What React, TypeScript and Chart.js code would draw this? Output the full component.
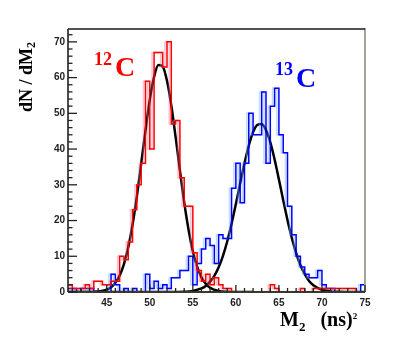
import React, { useEffect, useRef } from "react";
import { Chart, registerables } from "chart.js";

Chart.register(...registerables);

// Histogram bin left edges (bin width 0.5), M2 in (ns)^2
const binEdges = [
  40.5, 41, 41.5, 42, 42.5, 43, 43.5, 44, 44.5, 45,
  45.5, 46, 46.5, 47, 47.5, 48, 48.5, 49, 49.5, 50,
  50.5, 51, 51.5, 52, 52.5, 53, 53.5, 54, 54.5, 55,
  55.5, 56, 56.5, 57, 57.5, 58, 58.5, 59, 59.5, 60,
  60.5, 61, 61.5, 62, 62.5, 63, 63.5, 64, 64.5, 65,
  65.5, 66, 66.5, 67, 67.5, 68, 68.5, 69, 69.5, 70,
  70.5, 71, 71.5, 72, 72.5, 73, 73.5, 74, 74.5,
];
const binEnd = 75;

const counts12C = [
  2, 1, 1, 1, 2, 1, 3, 3, 2, 2,
  3, 3, 10, 9, 14, 23, 30, 36, 59, 40,
  67, 67, 63, 70, 47, 48, 32, 24, 24, 11,
  6, 3, 5, 2, 4, 2, 1, 1, 0, 0,
  0, 0, 0, 0, 0, 0, 0, 2, 1, 0,
  0, 0, 0, 0, 1, 0, 0, 1, 1, 1,
  1, 1, 1, 1, 1, 1, 1, 0, 0,
];

const counts13C = [
  1, 1, 0, 1, 1, 1, 0, 0, 0, 0,
  5, 2, 0, 1, 0, 1, 0, 0, 5, 1,
  3, 1, 2, 1, 4, 4, 6, 6, 10, 2,
  8, 12, 15, 13, 8, 16, 15, 15, 29, 36,
  25, 36, 50, 44, 44, 56, 36, 52, 57, 44,
  39, 24, 16, 10, 7, 5, 4, 4, 6, 2,
  1, 1, 0, 0, 0, 0, 0, 0, 2,
];

// Gaussian fit curves
const fit12X = [40.5, 42, 43, 44, 45, 45.5, 46, 46.5, 47, 47.5, 48, 48.5, 49, 49.5, 50, 50.5, 51, 51.5, 52, 52.5, 53, 53.5, 54, 54.5, 55, 55.5, 56, 56.5, 57, 58, 59, 60, 62];
const fit12Y = [0, 0, 0.02, 0.13, 0.66, 1.34, 2.56, 4.6, 7.8, 12.5, 18.9, 26.8, 35.9, 45.2, 53.8, 60.2, 63.5, 63.1, 59.1, 52.2, 43.4, 34.0, 25.1, 17.5, 11.4, 7.1, 4.1, 2.3, 1.17, 0.26, 0.05, 0.01, 0];

const fit13X = [40.5, 50, 53, 54, 55, 56, 56.5, 57, 57.5, 58, 58.5, 59, 59.5, 60, 60.5, 61, 61.5, 62, 62.5, 63, 63.5, 64, 64.5, 65, 65.5, 66, 66.5, 67, 67.5, 68, 68.5, 69, 70, 71, 72, 73, 75];
const fit13Y = [0, 0, 0.02, 0.07, 0.3, 1.0, 1.7, 2.9, 4.5, 6.9, 10.1, 14.2, 19.1, 24.6, 30.4, 36.0, 41.0, 44.8, 46.8, 47.0, 45.3, 41.9, 37.1, 31.5, 25.7, 20.1, 15.1, 10.9, 7.5, 5.0, 3.1, 1.9, 0.63, 0.17, 0.04, 0.01, 0];

const xMajorTicks = [45, 50, 55, 60, 65, 70, 75];
const xMinorTicks = [41, 42, 43, 44, 46, 47, 48, 49, 51, 52, 53, 54, 56, 57, 58, 59, 61, 62, 63, 64, 66, 67, 68, 69, 71, 72, 73, 74];
const yMajorTicks = [0, 10, 20, 30, 40, 50, 60, 70];
const yMinorTicks = [2, 4, 6, 8, 12, 14, 16, 18, 22, 24, 26, 28, 32, 34, 36, 38, 42, 44, 46, 48, 52, 54, 56, 58, 62, 64, 66, 68, 72];

const X_MIN = 40.5;
const X_MAX = 75;
const Y_MIN = 0;
const Y_MAX = 73.6;

function histPoints(edges: number[], counts: number[], end: number) {
  const pts = edges.map((e, i) => ({ x: e, y: counts[i] }));
  pts.push({ x: end, y: counts[counts.length - 1] });
  return pts;
}

function curvePoints(xs: number[], ys: number[]) {
  return xs.map((x, i) => ({ x, y: ys[i] }));
}

const framePlugin = {
  id: "rootFrame",
  beforeDatasetDraw(chart: any, args: any) {
    const ds = chart.data.datasets[args.index];
    if (ds.shadowColor) {
      const ctx = chart.ctx;
      ctx.save();
      ctx.shadowColor = ds.shadowColor;
      ctx.shadowOffsetX = -2;
      ctx.shadowOffsetY = 0;
      ctx.shadowBlur = 1;
    }
  },
  afterDatasetDraw(chart: any, args: any) {
    const ds = chart.data.datasets[args.index];
    if (ds.shadowColor) chart.ctx.restore();
  },
  afterDraw(chart: any) {
    const { ctx, chartArea: a, scales } = chart;
    const line = (x1: number, y1: number, x2: number, y2: number) => {
      ctx.beginPath();
      ctx.moveTo(x1, y1);
      ctx.lineTo(x2, y2);
      ctx.stroke();
    };
    ctx.save();
    // right border (grey)
    ctx.strokeStyle = "#a3a39a";
    ctx.lineWidth = 2;
    line(a.right, a.top - 1, a.right, a.bottom);
    // top border
    ctx.strokeStyle = "#1a1a1a";
    ctx.lineWidth = 1.5;
    line(a.left, a.top, a.right, a.top);
    // bottom axis
    ctx.strokeStyle = "#3a3a30";
    ctx.lineWidth = 2;
    line(a.left, a.bottom, a.right, a.bottom);
    // left axis
    ctx.strokeStyle = "#111";
    ctx.lineWidth = 1.5;
    line(a.left, a.top, a.left, a.bottom);
    // ticks (inward)
    ctx.strokeStyle = "#222";
    ctx.lineWidth = 1.3;
    yMajorTicks.forEach((v) => {
      const y = scales.y.getPixelForValue(v);
      line(a.left, y, a.left + 9, y);
    });
    yMinorTicks.forEach((v) => {
      const y = scales.y.getPixelForValue(v);
      line(a.left, y, a.left + 4.5, y);
    });
    xMajorTicks.forEach((v) => {
      const x = scales.x.getPixelForValue(v);
      line(x, a.bottom, x, a.bottom - 7);
    });
    xMinorTicks.forEach((v) => {
      const x = scales.x.getPixelForValue(v);
      line(x, a.bottom, x, a.bottom - 4);
    });
    ctx.restore();
  },
};

const SERIF = '"Liberation Serif", "Times New Roman", serif';

function Label(props: { x: number; baseline: number; size: number; color: string; children: React.ReactNode }) {
  const { x, baseline, size, color, children } = props;
  return (
    <div
      style={{
        position: "absolute",
        left: x,
        top: baseline - 0.8375 * size,
        fontFamily: SERIF,
        fontWeight: "bold",
        fontSize: size,
        lineHeight: `${size}px`,
        color,
        whiteSpace: "nowrap",
      }}
    >
      {children}
    </div>
  );
}

export default function App() {
  const canvasRef = useRef<HTMLCanvasElement | null>(null);

  useEffect(() => {
    document.body.style.margin = "0";
    const canvas = canvasRef.current;
    if (!canvas) return;
    const tickFont = { family: '"Liberation Sans", Arial, sans-serif', size: 10, weight: "bold" as const };
    const chart = new Chart(canvas, {
      type: "line",
      data: {
        datasets: [
          {
            label: "12C",
            data: histPoints(binEdges, counts12C, binEnd),
            borderColor: "#ff0000",
            borderWidth: 1.5,
            stepped: "before",
            pointRadius: 0,
            fill: false,
            shadowColor: "rgba(235,120,150,0.5)",
          } as any,
          {
            label: "13C",
            data: histPoints(binEdges, counts13C, binEnd),
            borderColor: "#0000ff",
            borderWidth: 1.5,
            stepped: "before",
            pointRadius: 0,
            fill: false,
            shadowColor: "rgba(120,180,255,0.55)",
          } as any,
          {
            label: "fit 12C",
            data: curvePoints(fit12X, fit12Y),
            borderColor: "#000000",
            borderWidth: 2.5,
            pointRadius: 0,
            cubicInterpolationMode: "monotone",
            fill: false,
          },
          {
            label: "fit 13C",
            data: curvePoints(fit13X, fit13Y),
            borderColor: "#000000",
            borderWidth: 2.5,
            pointRadius: 0,
            cubicInterpolationMode: "monotone",
            fill: false,
          },
        ],
      },
      options: {
        animation: false,
        responsive: false,
        maintainAspectRatio: false,
        parsing: false as any,
        normalized: true,
        events: [],
        layout: { padding: { left: 0, top: 29, right: 32, bottom: 0 } },
        plugins: {
          legend: { display: false },
          tooltip: { enabled: false },
          title: { display: false },
        },
        scales: {
          x: {
            type: "linear",
            min: X_MIN,
            max: X_MAX,
            grid: { display: false, drawTicks: false },
            border: { display: false },
            afterBuildTicks: (scale: any) => {
              scale.ticks = xMajorTicks.map((v) => ({ value: v }));
            },
            afterFit: (scale: any) => {
              scale.height = 57;
            },
            ticks: {
              autoSkip: false,
              maxRotation: 0,
              padding: 5,
              color: "#222",
              font: tickFont,
            },
          },
          y: {
            type: "linear",
            min: Y_MIN,
            max: Y_MAX,
            grid: { display: false, drawTicks: false },
            border: { display: false },
            afterBuildTicks: (scale: any) => {
              scale.ticks = yMajorTicks.map((v) => ({ value: v }));
            },
            afterFit: (scale: any) => {
              scale.width = 68;
            },
            ticks: {
              autoSkip: false,
              padding: 3,
              color: "#222",
              font: tickFont,
            },
          },
        },
      },
      plugins: [framePlugin],
    });
    return () => chart.destroy();
  }, []);

  return (
    <div style={{ position: "relative", width: 397, height: 349, background: "#fff", overflow: "hidden" }}>
      <canvas ref={canvasRef} width={397} height={349} style={{ display: "block", width: 397, height: 349 }} />
      {/* Y axis title */}
      <div
        style={{
          position: "absolute",
          left: 17,
          top: 112,
          transformOrigin: "0 0",
          transform: "rotate(-90deg)",
          fontFamily: SERIF,
          fontWeight: "bold",
          fontSize: 18,
          lineHeight: "18px",
          color: "#000",
          whiteSpace: "nowrap",
        }}
      >
        dN / dM<span style={{ fontSize: 12, position: "relative", top: 3, lineHeight: "0" }}>2</span>
      </div>
      {/* X axis title */}
      <Label x={280} baseline={326} size={20} color="#000">
        M<span style={{ fontSize: 13, position: "relative", top: 5, lineHeight: "0" }}>2</span>
        <span style={{ marginLeft: 15 }}>(ns)</span>
        <span style={{ fontSize: 9, position: "relative", top: -7, lineHeight: "0" }}>2</span>
      </Label>
      {/* 12C label */}
      <Label x={94} baseline={65} size={18} color="#ff0000">12</Label>
      <Label x={115} baseline={76} size={28} color="#ff0000">C</Label>
      {/* 13C label */}
      <Label x={275} baseline={75} size={18} color="#0000ff">13</Label>
      <Label x={296} baseline={87} size={28} color="#0000ff">C</Label>
    </div>
  );
}
